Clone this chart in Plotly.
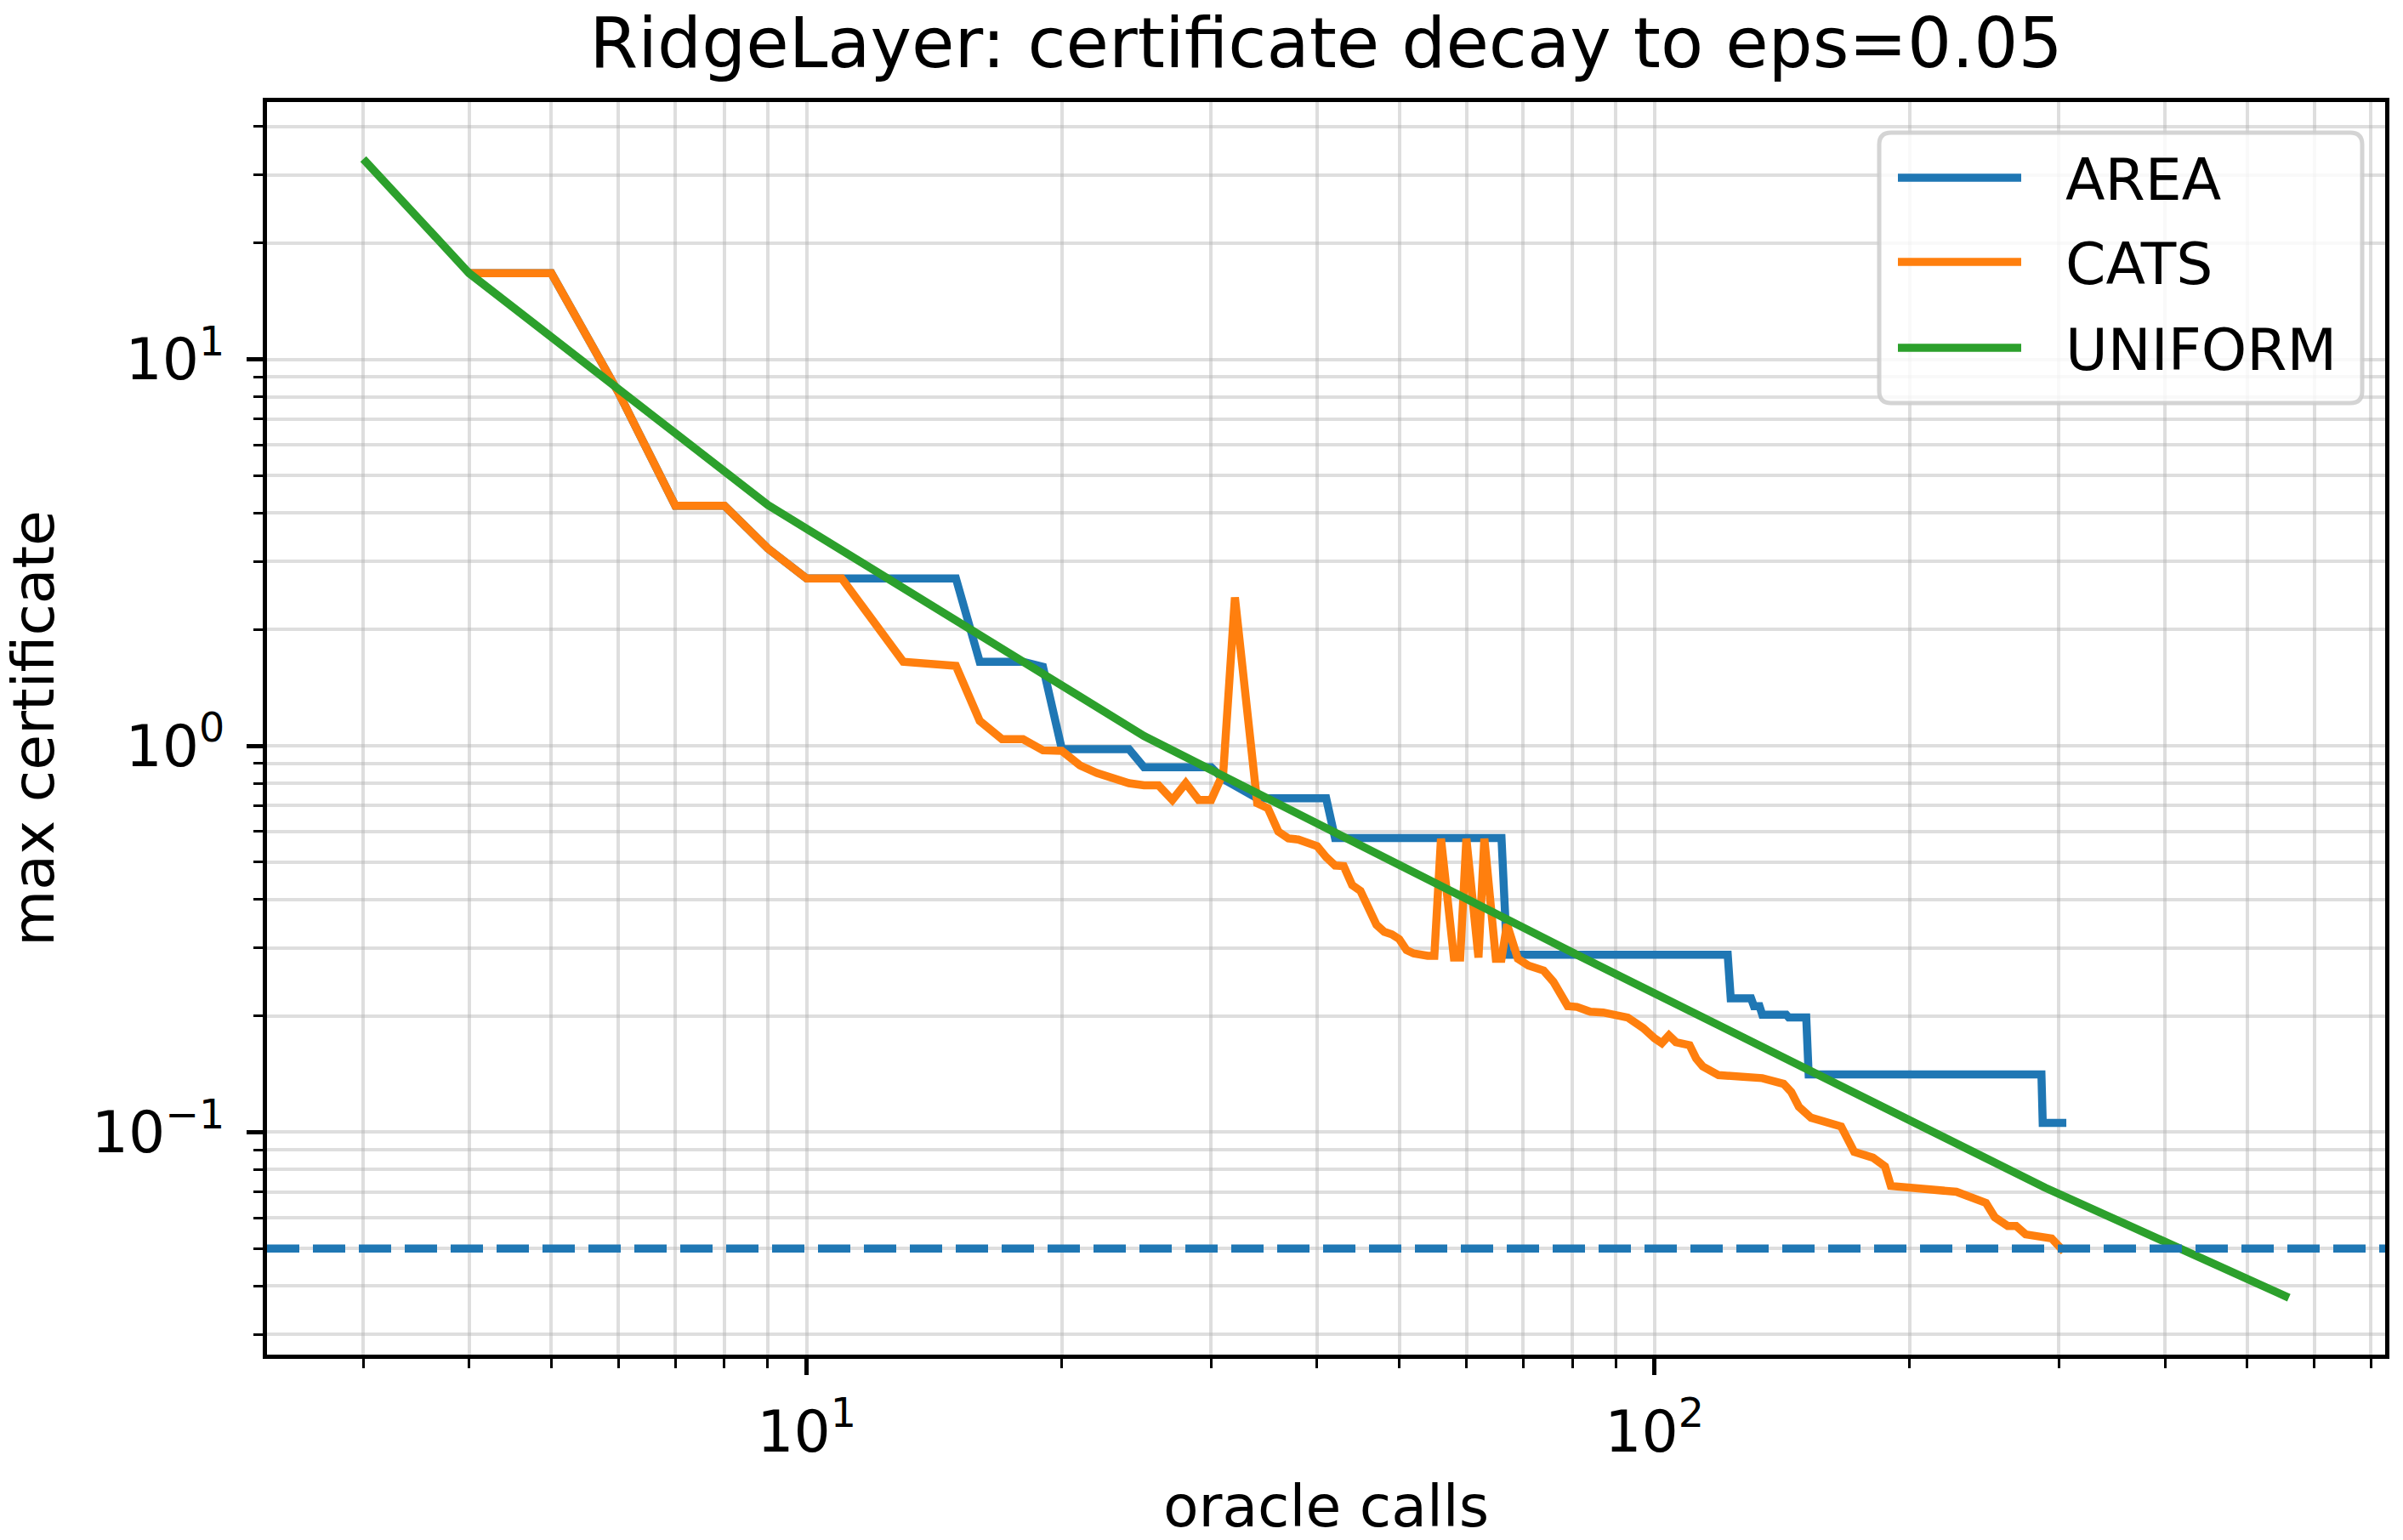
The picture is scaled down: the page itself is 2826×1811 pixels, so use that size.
import math
import plotly.graph_objects as go

TITLE = "RidgeLayer: certificate decay to eps=0.05"
X_LABEL = "oracle calls"
Y_LABEL = "max certificate"
EPS = 0.05
SERIES_NAMES = ["AREA", "CATS", "UNIFORM"]
COLORS = ["#1f77b4", "#ff7f0e", "#2ca02c"]

AREA_X = [4, 5, 6, 7, 8, 9, 10, 11, 15, 16, 18, 19, 20, 24, 25, 30, 31, 34, 41, 42,
          66, 67, 122, 123, 130, 131, 133, 134, 143, 144, 151, 152, 286, 287, 306]
AREA_Y = [16.7, 16.7, 8.2, 4.18, 4.18, 3.24, 2.71, 2.71, 2.71, 1.65, 1.65, 1.60, 0.98, 0.98,
          0.88, 0.88, 0.82, 0.731, 0.731, 0.577, 0.577, 0.288, 0.288, 0.222, 0.222, 0.212,
          0.212, 0.2015, 0.2015, 0.198, 0.198, 0.141, 0.141, 0.1057, 0.1057]

CATS_X = [4, 5, 6, 7, 8, 9, 10, 11, 13, 15, 16, 17, 18, 19, 20, 21, 22, 23, 24, 25, 26,
          27, 28, 29, 30, 31, 32, 34, 35, 36, 37, 38, 39, 40, 41, 42, 43, 44, 45, 46, 47,
          48, 49, 50, 51, 52, 53, 54, 55, 56, 58, 59, 60, 62, 63, 65, 66, 67, 69, 71, 74,
          76, 79, 81, 84, 87, 93, 97, 100, 102, 104, 106, 110, 112, 114, 119, 134, 142,
          145, 148, 153, 166, 170, 172, 181, 187, 190, 201, 227, 246, 252, 261, 267, 274,
          294, 304]
CATS_Y = [16.7, 16.7, 8.2, 4.18, 4.18, 3.24, 2.71, 2.71, 1.65, 1.61, 1.16, 1.04, 1.04,
          0.973, 0.97, 0.89, 0.85, 0.82, 0.80, 0.79, 0.79, 0.724, 0.80, 0.724, 0.724, 0.85,
          2.42, 0.71, 0.689, 0.60, 0.576, 0.572, 0.564, 0.55, 0.515, 0.49, 0.488, 0.436,
          0.421, 0.38, 0.344, 0.33, 0.325, 0.316, 0.296, 0.29, 0.287, 0.286, 0.286, 0.575,
          0.283, 0.283, 0.575, 0.283, 0.575, 0.281, 0.281, 0.345, 0.281, 0.27, 0.262,
          0.245, 0.212, 0.211, 0.205, 0.204, 0.198, 0.186, 0.175, 0.170, 0.178, 0.171,
          0.168, 0.155, 0.148, 0.1405, 0.138, 0.1334, 0.127, 0.1164, 0.109, 0.1035,
          0.0935, 0.0889, 0.0859, 0.0816, 0.0726, 0.0719, 0.0701, 0.0656, 0.0602, 0.0572,
          0.0572, 0.0544, 0.0531, 0.0491]

UNIFORM_X = [3, 4, 9, 25, 81, 289, 560]
UNIFORM_Y = [33.0, 16.7, 4.2, 1.06, 0.288, 0.0718, 0.0373]

X_TICK_VALS = [10, 100]
X_TICK_TEXT = ["10<sup>1</sup>", "10<sup>2</sup>"]
Y_TICK_VALS = [0.1, 1, 10]
Y_TICK_TEXT = ["10<sup>\u22121</sup>", "10<sup>0</sup>", "10<sup>1</sup>"]
X_MINOR = [3, 4, 5, 6, 7, 8, 9, 20, 30, 40, 50, 60, 70, 80, 90, 200, 300, 400, 500, 600, 700]
Y_MINOR = [0.03, 0.04, 0.05, 0.06, 0.07, 0.08, 0.09, 0.2, 0.3, 0.4, 0.5, 0.6, 0.7, 0.8, 0.9,
           2, 3, 4, 5, 6, 7, 8, 9, 20, 30, 40]

# ---- layout constants (pixels) ----
W, H = 2826, 1811
ML, MR, MT, MB = 314, 21, 120, 218
PW, PH = W - ML - MR, H - MT - MB
LW = 9.5
FONT = "DejaVu Sans"
FS = 68
GRID = "rgba(176,176,176,0.42)"
GRID_W = 4.2


def log_range(vals):
    lo, hi = math.log10(min(vals)), math.log10(max(vals))
    pad = 0.05 * (hi - lo)
    return [lo - pad, hi + pad]


xr = log_range(AREA_X + CATS_X + UNIFORM_X)
yr = log_range(AREA_Y + CATS_Y + UNIFORM_Y)

fig = go.Figure()
for name, xs, ys, col in zip(SERIES_NAMES, [AREA_X, CATS_X, UNIFORM_X],
                             [AREA_Y, CATS_Y, UNIFORM_Y], COLORS):
    fig.add_trace(go.Scatter(x=xs, y=ys, mode="lines", name=name,
                             line=dict(color=col, width=LW), showlegend=False))

# eps threshold line across the whole axis range
fig.add_trace(go.Scatter(x=[10 ** xr[0], 10 ** xr[1]], y=[EPS, EPS], mode="lines",
                         name="eps", showlegend=False, hoverinfo="skip",
                         line=dict(color=COLORS[0], width=LW, dash="38px,16px")))

axis_common = dict(
    type="log", showline=True, linecolor="black", linewidth=5, mirror=True,
    ticks="outside", ticklen=19, tickwidth=4.6, tickcolor="black",
    tickmode="array", showgrid=True, gridcolor=GRID, gridwidth=GRID_W, zeroline=False,
    tickfont=dict(size=FS, family=FONT, color="black"),
)

fig.update_layout(
    width=W, height=H,
    margin=dict(l=ML, r=MR, t=MT, b=MB, pad=0),
    paper_bgcolor="white", plot_bgcolor="white",
    font=dict(family=FONT, color="black", size=FS),
    title=dict(text=TITLE, x=0.5, xref="paper", xanchor="center",
               y=1 - 50 / H, yref="container", yanchor="middle",
               font=dict(size=82, family=FONT, color="black")),
    xaxis=dict(axis_common, range=xr, tickvals=X_TICK_VALS, ticktext=X_TICK_TEXT,
               ticklabelstandoff=8,
               minor=dict(tickmode="array", tickvals=X_MINOR, ticks="outside", ticklen=11,
                          tickwidth=3.4, tickcolor="black", showgrid=True,
                          gridcolor=GRID, gridwidth=GRID_W),
               title=dict(text=X_LABEL, standoff=30, font=dict(size=FS, family=FONT))),
    yaxis=dict(axis_common, range=yr, tickvals=Y_TICK_VALS, ticktext=Y_TICK_TEXT,
               ticklabelstandoff=12,
               minor=dict(tickmode="array", tickvals=Y_MINOR, ticks="outside", ticklen=11,
                          tickwidth=3.4, tickcolor="black", showgrid=True,
                          gridcolor=GRID, gridwidth=GRID_W),
               title=dict(text=Y_LABEL, standoff=35, font=dict(size=FS, family=FONT))),
)


# ---- legend drawn in paper coords ----
def px_x(p):
    return (p - ML) / PW


def px_y(p):
    return (H - MB - p) / PH


bx0, bx1 = px_x(2210), px_x(2778)
by0, by1 = px_y(474), px_y(156)
rx, ry = 14 / PW, 14 / PH
path = (f"M{bx0+rx},{by0} L{bx1-rx},{by0} Q{bx1},{by0} {bx1},{by0+ry} "
        f"L{bx1},{by1-ry} Q{bx1},{by1} {bx1-rx},{by1} L{bx0+rx},{by1} "
        f"Q{bx0},{by1} {bx0},{by1-ry} L{bx0},{by0+ry} Q{bx0},{by0} {bx0+rx},{by0} Z")
fig.add_shape(type="path", path=path, xref="paper", yref="paper",
              fillcolor="rgba(255,255,255,0.8)",
              line=dict(color="rgba(204,204,204,0.85)", width=5), layer="above")

legend_rows = [209, 308, 409]
for name, col, row in zip(SERIES_NAMES, COLORS, legend_rows):
    fig.add_shape(type="line", xref="paper", yref="paper",
                  x0=px_x(2232), x1=px_x(2377), y0=px_y(row), y1=px_y(row),
                  line=dict(color=col, width=LW), layer="above")
    fig.add_annotation(text=name, xref="paper", yref="paper", x=px_x(2427), y=px_y(row + 2),
                       xanchor="left", yanchor="middle", showarrow=False,
                       font=dict(size=FS, family=FONT, color="black"))

fig.write_html("out.html")
